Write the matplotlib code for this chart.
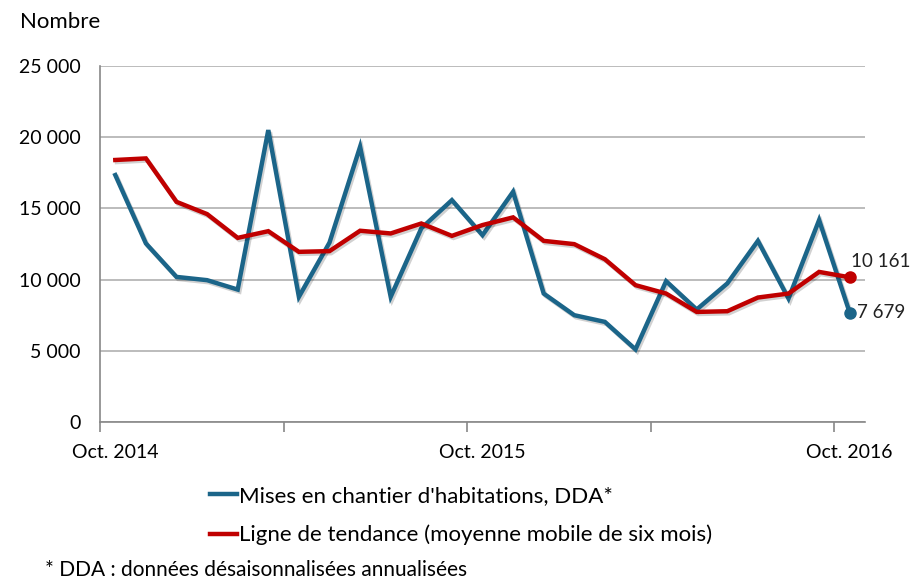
import matplotlib
matplotlib.use("Agg")
import matplotlib.pyplot as plt
import matplotlib.patheffects as pe
from matplotlib.lines import Line2D

plt.rcParams['font.family'] = ['Lato', 'DejaVu Sans']

months = list(range(25))  # Oct. 2014 .. Oct. 2016
tick_labels = ["Oct. 2014", "Oct. 2015", "Oct. 2016"]
tick_label_idx = [0, 12, 24]

mises = [17340, 12540, 10190, 9960, 9300, 20500, 8790, 12600, 19330, 8790,
         13600, 15580, 13120, 16170, 9020, 7500, 7030, 5100, 9890, 7900,
         9730, 12720, 8670, 14180, 7679]
tendance = [18400, 18510, 15460, 14600, 12930, 13400, 11950, 12000, 13430, 13240,
            13940, 13070, 13830, 14370, 12720, 12490, 11430, 9610, 9020, 7730,
            7780, 8740, 9020, 10540, 10161]

blue = "#1b6589"
red = "#c00000"

fig = plt.figure(figsize=(9.14, 5.81), dpi=100)
ax = fig.add_axes([100/914, 1-422/581, 765/914, 356/581])

shadow = [pe.SimpleLineShadow(offset=(1.2, -1.5), alpha=0.18, shadow_color='k'), pe.Normal()]
ax.plot(months, mises, color=blue, lw=3.2, solid_joinstyle='miter', path_effects=shadow, zorder=3)
ax.plot(months, tendance, color=red, lw=3.2, solid_joinstyle='miter', path_effects=shadow, zorder=4)
ax.plot(months[-1], mises[-1], 'o', color=blue, ms=8, zorder=5)
ax.plot(months[-1], tendance[-1], 'o', color=red, ms=8, zorder=5)

def fmt(v):
    return f"{v:,}".replace(",", " ")

ax.annotate(fmt(tendance[-1]), (months[-1], tendance[-1]), xytext=(1, 5), textcoords='offset points',
            ha='left', va='bottom', fontsize=13.5, color='#222222')
ax.annotate(fmt(mises[-1]), (months[-1], mises[-1]), xytext=(5, 0), textcoords='offset points',
            ha='left', va='center', fontsize=13.5, color='#222222')

ax.set_xlim(-0.5, 24.5)
ax.set_ylim(0, 25000)
yt = [0, 5000, 10000, 15000, 20000, 25000]
ax.set_yticks(yt)
ax.set_yticklabels([fmt(v) for v in yt])
ax.yaxis.grid(True, color='#b0b0b0', lw=1.2)
ax.set_axisbelow(True)

ax.set_xticks([-0.5, 5.5, 11.5, 17.5, 23.5])
ax.set_xticklabels([])
ax.set_xticks(tick_label_idx, minor=True)
ax.set_xticklabels(tick_labels, minor=True)
ax.tick_params(axis='x', which='major', length=7, color='#888888', width=1.2, direction='out')
ax.tick_params(axis='x', which='minor', length=0, pad=16, labelsize=14)
ax.tick_params(axis='y', length=0, pad=14, labelsize=14)

for s in ['top', 'right']:
    ax.spines[s].set_visible(False)
ax.spines['left'].set_color('#888888')
ax.spines['bottom'].set_color('#888888')
ax.spines['left'].set_linewidth(1.2)
ax.spines['bottom'].set_linewidth(1.2)

fig.text(20/914, 1-22/581, "Nombre", fontsize=16, va='center', ha='left')

handles = [Line2D([], [], color=blue, lw=3.2), Line2D([], [], color=red, lw=3.2)]
fig.legend(handles, ["Mises en chantier d'habitations, DDA*",
                     "Ligne de tendance (moyenne mobile de six mois)"],
           loc='upper left', bbox_to_anchor=(210/914, 1-486/581), frameon=False,
           fontsize=16, handlelength=1.2, handletextpad=0.1, labelspacing=0.85,
           borderaxespad=0, borderpad=0)

fig.text(45/914, 1-570/581, "* DDA : données désaisonnalisées annualisées", fontsize=15,
         va='center', ha='left')

fig.savefig("out.png", dpi=100)
